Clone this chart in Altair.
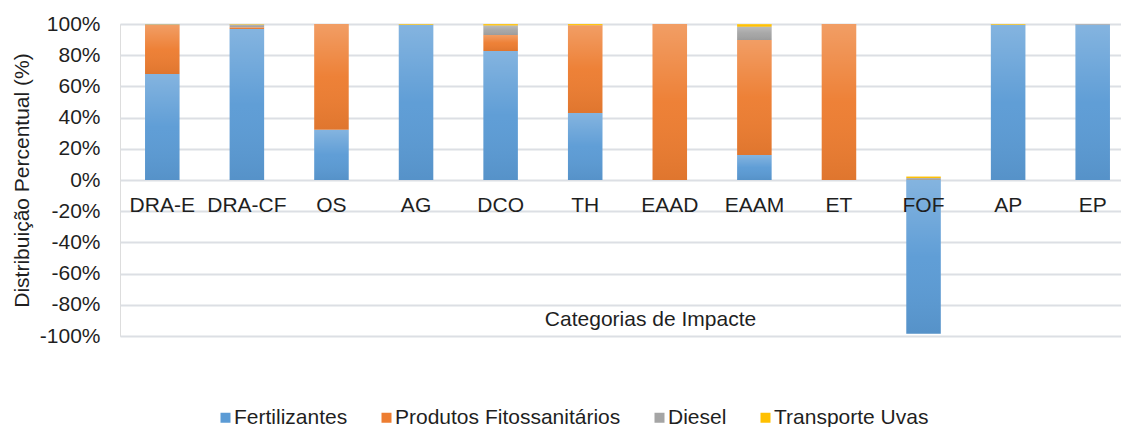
import altair as alt
import pandas as pd

# Impact categories and the share (%) of each input in every category
categorias = ["DRA-E", "DRA-CF", "OS", "AG", "DCO", "TH",
              "EAAD", "EAAM", "ET", "FOF", "AP", "EP"]
fertilizantes = [68.0, 96.8, 32.2, 99.5, 82.7, 42.9, 0.0, 16.0, 0.0, -98.5, 99.5, 99.5]
fitossanitarios = [31.3, 1.1, 67.8, 0.0, 10.3, 56.3, 100.0, 73.8, 100.0, 0.0, 0.0, 0.0]
diesel = [0.5, 1.7, 0.0, 0.0, 6.0, 0.0, 0.0, 8.5, 0.0, 1.3, 0.0, 0.5]
transporte = [0.2, 0.4, 0.0, 0.5, 1.0, 0.8, 0.0, 1.7, 0.0, 0.9, 0.5, 0.0]

series = ["Fertilizantes", "Produtos Fitossanitários", "Diesel", "Transporte Uvas"]
cores = ["#5B9BD5", "#ED7D31", "#A5A5A5", "#FFC000"]
y_ticks = [100, 80, 60, 40, 20, 0, -20, -40, -60, -80, -100]

rows = []
for i, cat in enumerate(categorias):
    for k, vals in enumerate([fertilizantes, fitossanitarios, diesel, transporte]):
        if vals[i] != 0:
            rows.append({"categoria": cat, "serie": series[k], "ordem": k, "valor": vals[i]})
df = pd.DataFrame(rows)

FONT = "Liberation Sans"
TXT = "#1f1f1f"
FS = 21

x_enc = alt.X(
    "categoria:N",
    sort=categorias,
    scale=alt.Scale(paddingInner=0.592, paddingOuter=0.296, range=[0, 1015]),
    axis=alt.Axis(
        title="Categorias de Impacte",
        orient="bottom",
        offset=-156,
        zindex=1,
        domain=False,
        ticks=False,
        grid=False,
        labelAngle=0,
        labelFont=FONT,
        labelFontSize=FS,
        labelColor=TXT,
        labelPadding=25,
        labelBaseline="middle",
        titleFont=FONT,
        titleFontSize=FS,
        titleFontWeight="normal",
        titleColor=TXT,
        titleX=530,
        titleY=139,
        titleAlign="center",
        titleBaseline="middle",
    ),
)
y_enc = alt.Y(
    "valor:Q",
    stack="zero",
    scale=alt.Scale(domain=[-100, 100], nice=False),
    axis=alt.Axis(
        title="Distribuição Percentual (%)",
        values=y_ticks,
        labelExpr="datum.value + '%'",
        domain=False,
        ticks=False,
        grid=True,
        gridColor="#DCDFE4",
        gridWidth=1.8,
        labelFont=FONT,
        labelFontSize=FS,
        labelColor=TXT,
        labelPadding=20,
        titleFont=FONT,
        titleFontSize=FS,
        titleFontWeight="normal",
        titleColor=TXT,
        titleX=-98,
        titleY=156,
        titleAlign="center",
        titleBaseline="middle",
    ),
)

base = alt.Chart(df).encode(
    x=x_enc,
    y=y_enc,
    order=alt.Order("ordem:Q", sort="ascending"),
)

barras = base.mark_bar().encode(
    color=alt.Color(
        "serie:N",
        sort=series,
        scale=alt.Scale(domain=series, range=cores),
        legend=alt.Legend(
            title=None,
            orient="none",
            direction="horizontal",
            legendX=95,
            legendY=383,
            symbolType="square",
            symbolSize=100,
            symbolStrokeWidth=0,
            labelFont=FONT,
            labelFontSize=FS,
            labelColor=TXT,
            labelOffset={"expr": "-2"},
            labelLimit=0,
            columnPadding=28,
            padding=0,
        ),
    )
)

# vertical shading on each segment: lighter on top, darker at the base
brilho = base.mark_bar(
    fill=alt.LinearGradient(
        gradient="linear",
        x1=0, x2=0, y1=0, y2=1,
        stops=[
            alt.GradientStop(color="rgba(255,255,255,0.25)", offset=0),
            alt.GradientStop(color="rgba(255,255,255,0.03)", offset=0.5),
            alt.GradientStop(color="rgba(0,0,0,0.06)", offset=1),
        ],
    )
).encode(detail="serie:N")

chart = (
    alt.layer(barras, brilho)
    .properties(
        width=1001,
        height=312,
        autosize=alt.AutoSizeParams(type="none"),
        padding={"left": 120, "top": 24, "right": 0, "bottom": 91},
    )
    .configure_view(stroke=None)
    .configure(background="white")
)

chart.save("out.html", embed_options={"renderer": "svg", "actions": False})
